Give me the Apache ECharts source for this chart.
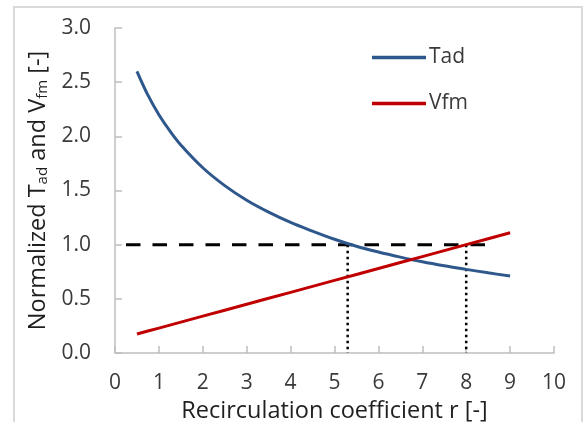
<!DOCTYPE html>
<html>
<head>
<meta charset="utf-8">
<script src="https://cdn.jsdelivr.net/npm/echarts@6/dist/echarts.min.js"></script>
<style>
  html, body { margin: 0; padding: 0; background: #ffffff; }
  #chart { width: 586px; height: 422px; }
</style>
</head>
<body>
<div id="chart"></div>
<script>
// Recirculation coefficient r [-]
const rValues = [0.5, 0.75, 1.0, 1.25, 1.5, 2.0, 2.5, 3.0, 3.5, 4.0, 4.5, 5.0, 5.5, 6.0, 6.5, 7.0, 7.5, 8.0, 8.5, 9.0];
// Normalized adiabatic temperature
const tadValues = [2.60, 2.38, 2.20, 2.05, 1.92, 1.71, 1.545, 1.41, 1.30, 1.205, 1.125, 1.05, 0.985, 0.932, 0.885, 0.842, 0.805, 0.772, 0.74, 0.71];
// Normalized Vfm
const vfmValues = [0.175, 0.2025, 0.23, 0.2575, 0.285, 0.34, 0.395, 0.45, 0.505, 0.56, 0.615, 0.67, 0.725, 0.78, 0.835, 0.89, 0.945, 1.0, 1.055, 1.11];
// Reference level and the r values where each curve meets it
const refLevel = 1.0;
const refSpan = [0.25, 8.55];
const markR = [5.3, 8.0];

const FONT = '"Open Sans", Lato, sans-serif';
const FS = 21;
const TITLE_FS = 23.5;
const LABEL_COLOR = '#3a3a3a';
const TITLE_COLOR = '#1f1f1f';
const AXIS_COLOR = '#bfbfbf';

const chart = echarts.init(document.getElementById('chart'), null, { renderer: 'canvas' });

const pairs = (xs, ys) => xs.map((x, i) => [x, ys[i]]);

const series = [
  {
    name: 'Tad', type: 'line', data: pairs(rValues, tadValues),
    smooth: 0.35,
    symbol: 'none', lineStyle: { color: '#2E578C', width: 3 }, itemStyle: { color: '#2E578C' }, z: 3
  },
  {
    name: 'Vfm', type: 'line', data: pairs(rValues, vfmValues),
    symbol: 'none', lineStyle: { color: '#C00000', width: 3 }, itemStyle: { color: '#C00000' }, z: 3
  },
  {
    name: 'ref', type: 'line', data: refSpan.map(x => [x, refLevel]),
    symbol: 'none', silent: true,
    lineStyle: { color: '#000000', width: 3, type: [14.5, 12], cap: 'butt' }, z: 2
  }
];
markR.forEach((r, i) => {
  series.push({
    name: 'drop' + i, type: 'line', data: [[r, refLevel], [r, 0]],
    symbol: 'none', silent: true,
    lineStyle: { color: '#000000', width: 2.5, type: [2.5, 3.5], cap: 'butt' }, z: 2
  });
});

chart.setOption({
  animation: false,
  backgroundColor: '#ffffff',
  textStyle: { fontFamily: FONT },
  graphic: [{
    type: 'rect',
    shape: { x: 14, y: 7, width: 568, height: 440 },
    style: { fill: 'none', stroke: '#d9d9d9', lineWidth: 2 },
    silent: true, z: -1
  }],
  grid: { left: 115, right: 32, top: 28, bottom: 69, containLabel: false, outerBoundsMode: 'none' },
  legend: {
    data: [
      { name: 'Tad', icon: 'rect', itemStyle: { color: '#2E578C' } },
      { name: 'Vfm', icon: 'rect', itemStyle: { color: '#C00000' } }
    ],
    orient: 'vertical',
    left: 367, top: 42,
    itemWidth: 54, itemHeight: 3.5, itemGap: 25,
    textStyle: { fontFamily: FONT, fontSize: FS, color: LABEL_COLOR, padding: [0, 0, 0, -2] }
  },
  xAxis: {
    type: 'value', min: 0, max: 10, interval: 1,
    name: 'Recirculation coefficient r [-]',
    nameLocation: 'middle', nameGap: 36,
    nameTextStyle: { fontFamily: FONT, fontSize: TITLE_FS, color: TITLE_COLOR },
    axisLine: { show: true, lineStyle: { color: AXIS_COLOR, width: 1.5 } },
    axisTick: { show: true, inside: true, length: 7, lineStyle: { color: AXIS_COLOR, width: 1.5 } },
    axisLabel: { fontFamily: FONT, fontSize: FS, color: LABEL_COLOR, margin: 20 },
    splitLine: { show: false }
  },
  yAxis: {
    type: 'value', min: 0, max: 3, interval: 0.5,
    name: '{t|Normalized T}{s|ad}{t| and V}{s|fm}{t| [-]}',
    nameLocation: 'middle', nameGap: 60, nameRotate: 90,
    nameTextStyle: {
      fontFamily: FONT, color: TITLE_COLOR,
      rich: {
        t: { fontFamily: FONT, fontSize: TITLE_FS, color: TITLE_COLOR, lineHeight: 28 },
        s: { fontFamily: FONT, fontSize: 15, color: TITLE_COLOR, lineHeight: 28, padding: [10, 0, 0, 0] }
      }
    },
    axisLine: { show: true, lineStyle: { color: AXIS_COLOR, width: 1.5 } },
    axisTick: { show: true, inside: true, length: 7, lineStyle: { color: AXIS_COLOR, width: 1.5 } },
    axisLabel: { fontFamily: FONT, fontSize: FS, color: LABEL_COLOR, margin: 24, formatter: v => v.toFixed(1) },
    splitLine: { show: false }
  },
  series: series
});
</script>
</body>
</html>
